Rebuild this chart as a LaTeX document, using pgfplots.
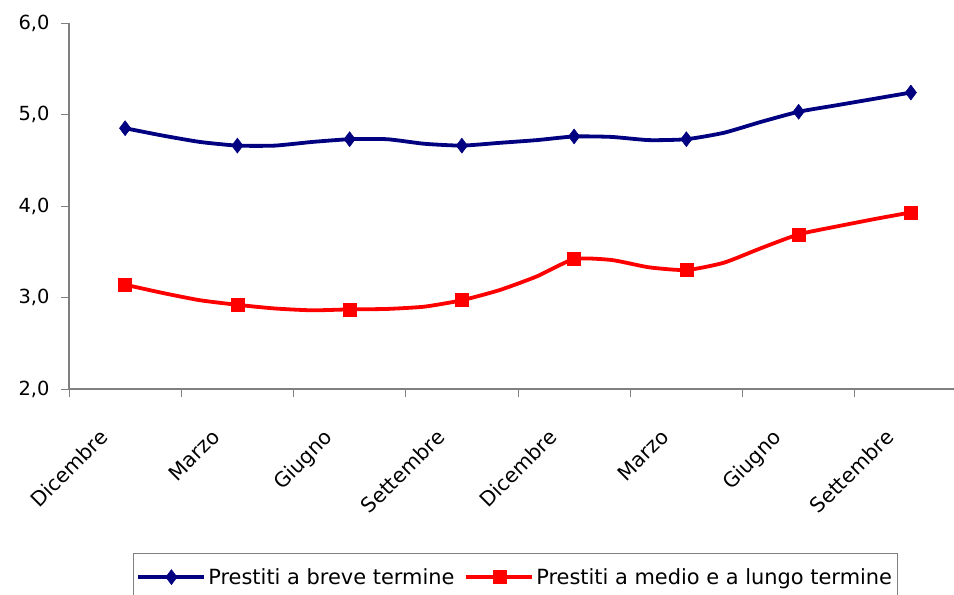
\documentclass[border=0pt]{standalone}
\usepackage{fontspec}
\setmainfont{DejaVu Sans}
\usepackage{pgfplots}
\pgfplotsset{compat=1.18}
\definecolor{navyb}{RGB}{0,0,128}
\definecolor{axgray}{RGB}{128,128,128}
\begin{document}
\begin{tikzpicture}
\useasboundingbox (-69bp,-206bp) rectangle (885bp,389bp);
\begin{axis}[
  at={(0bp,0bp)}, anchor=south west,
  scale only axis, width=898bp, height=366bp,
  xmin=-0.5, xmax=23.5, ymin=2, ymax=6,
  axis x line*=bottom, axis y line*=left,
  axis line style={axgray, line width=1.2bp, -},
  tick align=outside, major tick length=8bp,
  tick style={axgray, line width=1bp},
  ytick={2,3,4,5,6},
  /pgf/number format/.cd, fixed, fixed zerofill, precision=1, use comma, assume math mode=true,
  /pgfplots/.cd,
  tick label style={font=\fontsize{19.5}{22}\selectfont, black},
  yticklabel style={xshift=-8bp},
  xtick={-0.5,2.5,5.5,8.5,11.5,14.5,17.5,20.5},
  xticklabels={},
  extra x ticks={1,4,7,10,13,16,19,22},
  extra x tick labels={Dicembre,Marzo,Giugno,Settembre,Dicembre,Marzo,Giugno,Settembre},
  extra x tick style={major tick length=0pt, tick label style={font=\fontsize{20.5}{24}\selectfont, rotate=45, anchor=north east, xshift=-43bp, yshift=-5bp}},
  legend style={at={(axis description cs:0.0713,-0.448)}, anchor=north west, draw=axgray, line width=1bp,
    font=\fontsize{21}{24}\selectfont, inner xsep=3bp, inner ysep=13bp,
    /tikz/every even column/.append style={column sep=8bp}},
  legend columns=2,
  legend image code/.code={\draw[#1, mark repeat=2, mark phase=2] plot coordinates {(0bp,0bp) (33bp,0bp) (66bp,0bp)};},
]
\addplot[navyb, line width=3.8bp, smooth, tension=0.35, mark=diamond*, mark repeat=3, mark phase=1, mark size=7.5bp, mark options={solid, line width=0.5bp}] coordinates {
(1,4.85) (2,4.77) (3,4.70) (4,4.66) (5,4.66) (6,4.70) (7,4.73) (8,4.73) (9,4.68) (10,4.66) (11,4.69) (12,4.72)
(13,4.76) (14,4.755) (15,4.72) (16,4.73) (17,4.80) (18,4.92) (19,5.03) (20,5.10) (21,5.17) (22,5.24)};
\addlegendentry{Prestiti a breve termine}
\addplot[red, line width=3.8bp, smooth, tension=0.35, mark=square*, mark repeat=3, mark phase=1, mark size=6.5bp, mark options={solid, line width=0.5bp}] coordinates {
(1,3.14) (2,3.05) (3,2.97) (4,2.92) (5,2.88) (6,2.86) (7,2.87) (8,2.875) (9,2.90) (10,2.97) (11,3.08) (12,3.23)
(13,3.42) (14,3.41) (15,3.33) (16,3.30) (17,3.38) (18,3.54) (19,3.69) (20,3.775) (21,3.855) (22,3.93)};
\addlegendentry{Prestiti a medio e a lungo termine}
\end{axis}
\end{tikzpicture}
\end{document}
